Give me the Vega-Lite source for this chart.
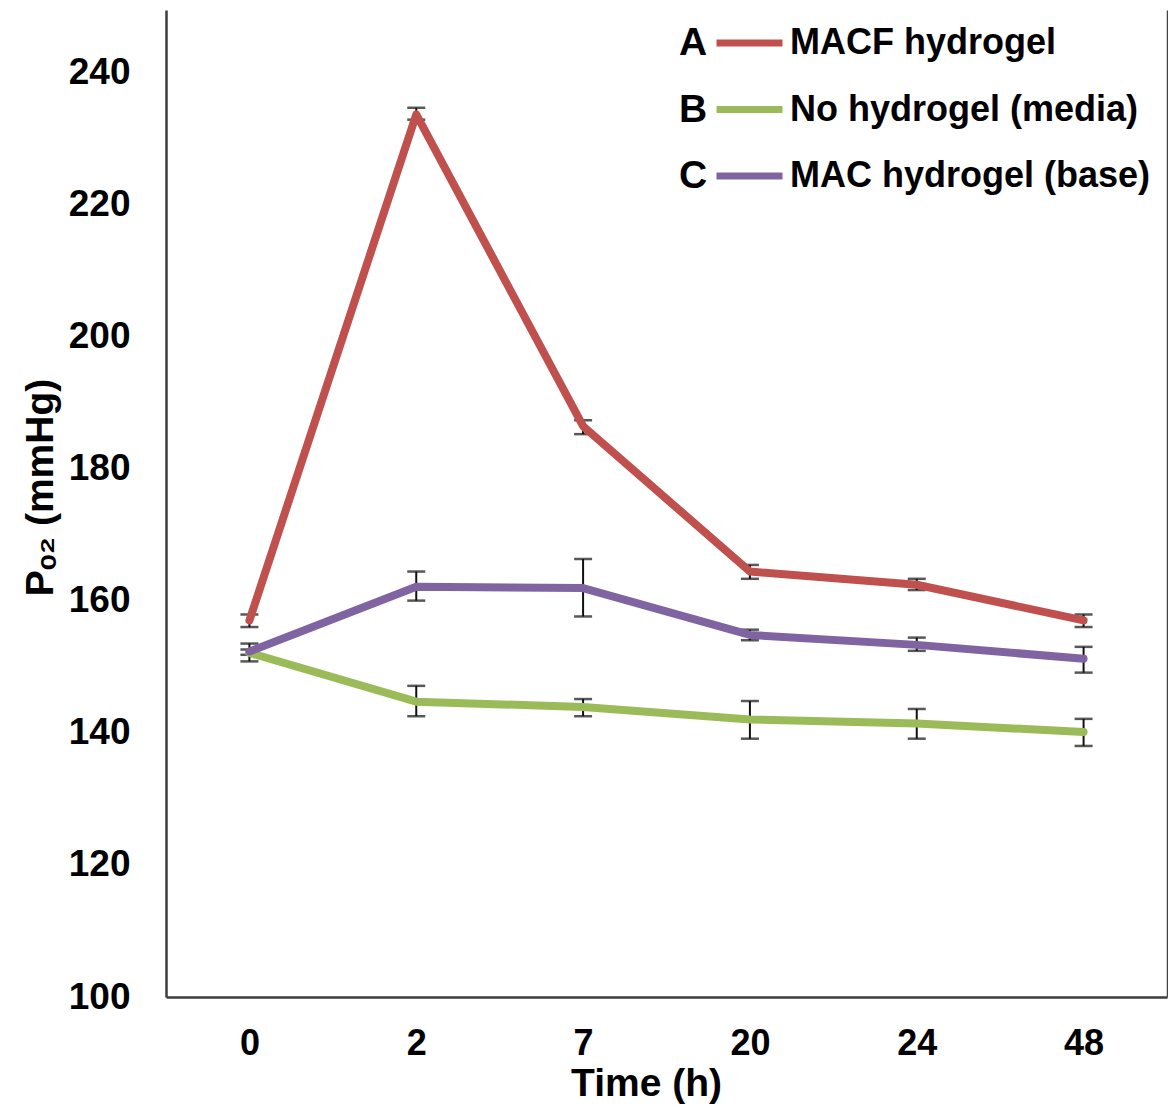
{
  "$schema": "https://vega.github.io/schema/vega-lite/v6.json",
  "width": 1001,
  "height": 987,
  "autosize": "none",
  "padding": {"left": 166, "top": 10, "right": 1, "bottom": 116},
  "background": "white",
  "config": {
    "view": {"stroke": null},
    "font": "Liberation Sans",
    "axis": {"labelFont": "Liberation Sans", "titleFont": "Liberation Sans, DejaVu Sans, sans-serif", "labelColor": "#000", "titleColor": "#000", "grid": false, "ticks": false, "domainColor": "#3c3c3c", "domainWidth": 2.5}
  },
  "data": {"values": [
    {"series": "MACF hydrogel", "code": "A", "time": 0, "value": 157.0, "lo": 156.0, "hi": 157.9},
    {"series": "MACF hydrogel", "code": "A", "time": 2, "value": 233.6, "lo": 232.8, "hi": 234.6},
    {"series": "MACF hydrogel", "code": "A", "time": 7, "value": 186.4, "lo": 185.2, "hi": 187.3},
    {"series": "MACF hydrogel", "code": "A", "time": 20, "value": 164.4, "lo": 163.3, "hi": 165.4},
    {"series": "MACF hydrogel", "code": "A", "time": 24, "value": 162.4, "lo": 161.6, "hi": 163.3},
    {"series": "MACF hydrogel", "code": "A", "time": 48, "value": 157.0, "lo": 156.0, "hi": 157.9},
    {"series": "No hydrogel (media)", "code": "B", "time": 0, "value": 152.1, "lo": 150.8, "hi": 152.6},
    {"series": "No hydrogel (media)", "code": "B", "time": 2, "value": 144.7, "lo": 142.5, "hi": 147.1},
    {"series": "No hydrogel (media)", "code": "B", "time": 7, "value": 143.9, "lo": 142.5, "hi": 145.1},
    {"series": "No hydrogel (media)", "code": "B", "time": 20, "value": 142.0, "lo": 139.1, "hi": 144.8},
    {"series": "No hydrogel (media)", "code": "B", "time": 24, "value": 141.4, "lo": 139.1, "hi": 143.6},
    {"series": "No hydrogel (media)", "code": "B", "time": 48, "value": 140.1, "lo": 138.0, "hi": 142.1},
    {"series": "MAC hydrogel (base)", "code": "C", "time": 0, "value": 152.3, "lo": 151.8, "hi": 153.5},
    {"series": "MAC hydrogel (base)", "code": "C", "time": 2, "value": 162.1, "lo": 160.0, "hi": 164.4},
    {"series": "MAC hydrogel (base)", "code": "C", "time": 7, "value": 161.9, "lo": 157.6, "hi": 166.3},
    {"series": "MAC hydrogel (base)", "code": "C", "time": 20, "value": 154.8, "lo": 154.0, "hi": 155.6},
    {"series": "MAC hydrogel (base)", "code": "C", "time": 24, "value": 153.3, "lo": 152.4, "hi": 154.4},
    {"series": "MAC hydrogel (base)", "code": "C", "time": 48, "value": 151.2, "lo": 149.1, "hi": 153.0}
  ]},
  "resolve": {"axis": {"y": "independent"}},
  "layer": [
    {
      "mark": {"type": "errorbar", "color": "#111", "thickness": 2, "ticks": {"size": 18, "thickness": 2.5, "color": "#111"}},
      "encoding": {
        "x": {"field": "time", "type": "ordinal", "scale": {"type": "point", "domain": [0, 2, 7, 20, 24, 48], "padding": 0.5},
          "axis": {"title": "Time (h)", "labelAngle": 0, "labelFontSize": 36, "labelFontWeight": "bold", "labelPadding": 29, "titleFontSize": 39, "titleFontWeight": "bold", "titleX": 480, "titleY": 98, "titleBaseline": "alphabetic"}},
        "y": {"field": "lo", "type": "quantitative", "scale": {"domain": [100, 249.4], "nice": false, "zero": false}, "axis": null},
        "y2": {"field": "hi"}
      }
    },
    {
      "mark": {"type": "line", "strokeWidth": 8, "strokeCap": "round", "strokeJoin": "round"},
      "encoding": {
        "x": {"field": "time", "type": "ordinal", "scale": {"type": "point", "domain": [0, 2, 7, 20, 24, 48], "padding": 0.5},
          "axis": {"title": "Time (h)", "labelAngle": 0, "labelFontSize": 36, "labelFontWeight": "bold", "labelPadding": 29, "titleFontSize": 39, "titleFontWeight": "bold", "titleX": 480, "titleY": 98, "titleBaseline": "alphabetic"}},
        "y": {"field": "value", "type": "quantitative", "scale": {"domain": [100, 249.4], "nice": false, "zero": false},
          "axis": {"title": "P\u2092\u2082 (mmHg)", "values": [100, 120, 140, 160, 180, 200, 220, 240], "labelFontSize": 37, "labelFontWeight": "bold", "labelPadding": 36, "titleFontSize": 39, "titleFontWeight": "bold", "titleX": -114, "titleY": 477, "titleBaseline": "alphabetic"}},
        "color": {"field": "series", "type": "nominal",
          "scale": {"domain": ["MACF hydrogel", "No hydrogel (media)", "MAC hydrogel (base)"], "range": ["#c0504d", "#9bbb59", "#8064a2"]},
          "legend": {"title": null, "orient": "none", "legendX": 547, "legendY": 13, "symbolType": "stroke", "symbolSize": 4356, "symbolStrokeWidth": 7, "clipHeight": 40, "rowPadding": 26.5, "labelFontSize": 36, "labelFontWeight": "bold", "labelColor": "#000", "labelOffset": 4, "labelLimit": 600, "padding": 0}}
      }
    },
    {
      "mark": {"type": "point", "opacity": 0},
      "encoding": {
        "x": {"field": "time", "type": "ordinal", "scale": {"type": "point", "domain": [0, 2, 7, 20, 24, 48], "padding": 0.5},
          "axis": {"title": "Time (h)", "labelAngle": 0, "labelFontSize": 36, "labelFontWeight": "bold", "labelPadding": 29, "titleFontSize": 39, "titleFontWeight": "bold", "titleX": 480, "titleY": 98, "titleBaseline": "alphabetic"}},
        "y": {"field": "value", "type": "quantitative", "scale": {"domain": [100, 249.4], "nice": false, "zero": false},
          "axis": {"orient": "right", "title": null, "labels": false, "ticks": false, "domainWidth": 1.5, "domainColor": "#444"}},
        "shape": {"field": "code", "type": "nominal",
          "legend": {"title": null, "orient": "none", "legendX": 474, "legendY": 13, "symbolSize": 1, "symbolOpacity": 0, "symbolStrokeWidth": 0, "clipHeight": 40, "rowPadding": 26.5, "labelFontSize": 39, "labelFontWeight": "bold", "labelColor": "#000", "labelOffset": 0, "padding": 0}}
      }
    }
  ]
}
